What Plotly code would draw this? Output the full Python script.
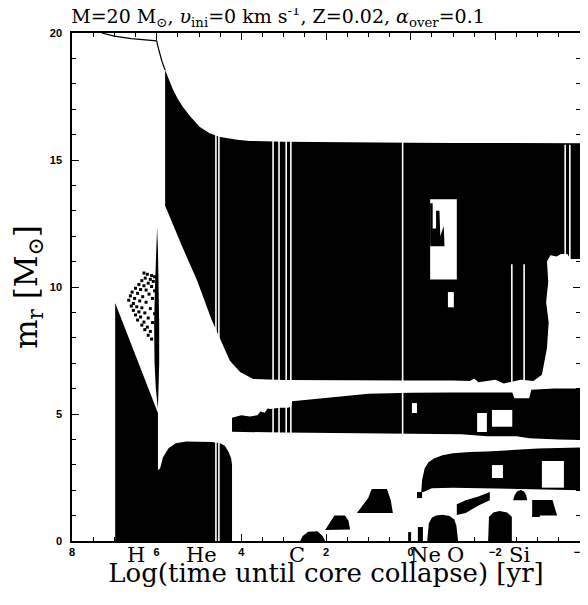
import plotly.graph_objects as go

# ---------------- data: log(time until core collapse) [yr]  vs  m_r [Msun] ----------------
# total mass (surface) before the envelope becomes convective
surface_logt = [7.30, 7.00, 6.60, 6.20, 6.00, 5.96, 5.92, 5.87, 5.80]
surface_m    = [20.0, 19.88, 19.78, 19.72, 19.69, 19.40, 19.10, 18.86, 18.54]

# convective envelope (its top is the surface of the star)
env_logt = [5.80, 5.72, 5.62, 5.50, 5.38, 5.20, 4.98, 4.75, 4.50, 4.10, 3.80, 3.00, 2.00, 1.00, 0.00,
            -1.00, -2.00, -3.00, -4.00,
            -4.00, -3.78, -3.70, -3.55, -3.45, -3.30, -3.22, -3.25, -3.20, -3.26, -3.22, -3.10, -2.90,
            -2.60, -2.20, -2.00, -1.60, -1.50, -1.40, -1.00, 0.00, 1.00, 2.00, 3.00, 3.72, 4.03, 4.27,
            4.45, 4.70, 5.05, 5.40, 5.80]
env_m    = [18.54, 18.20, 17.80, 17.40, 17.09, 16.70, 16.30, 16.05, 15.91, 15.80, 15.75, 15.72, 15.70,
            15.69, 15.68, 15.67, 15.67, 15.66, 15.66,
            11.10, 11.10, 11.30, 11.30, 11.20, 11.25, 11.00, 10.20, 9.40, 8.60, 7.60, 6.55, 6.30,
            6.35, 6.20, 6.35, 6.25, 6.40, 6.30, 6.32, 6.32, 6.33, 6.33, 6.34, 6.38, 6.65, 7.10,
            7.80, 8.70, 10.28, 11.60, 13.20]

# H-burning convective core + He-burning convective core
core_logt = [6.98, 6.98, 5.97, 5.97, 5.92, 5.85, 5.72, 5.55, 5.30, 5.00, 4.70, 4.50, 4.39, 4.30, 4.24, 4.22, 4.22]
core_m    = [0.00, 9.37, 5.04, 2.80, 2.85, 3.30, 3.65, 3.85, 3.92, 3.92, 3.90, 3.85, 3.75, 3.50, 3.25, 3.00, 0.00]

# intermediate convective zone (thin spike at end of H burning)
spike_logt = [5.97, 6.02, 6.05, 6.06, 6.04, 6.01, 5.99, 5.97, 5.95, 5.94, 5.94, 5.95]
spike_m    = [5.20, 6.00, 7.00, 8.50, 10.0, 11.5, 12.35, 11.5, 10.0, 8.50, 7.00, 6.00]

# semiconvective speckles
speck_logt = [6.30, 6.22, 6.12, 6.05, 6.27, 6.15, 6.35, 6.08, 6.20, 6.42, 6.30, 6.12, 6.50, 6.38, 6.25,
              6.05, 6.58, 6.45, 6.18, 6.62, 6.33, 6.52, 6.10, 6.66, 6.40, 6.25, 6.55, 6.60, 6.47, 6.35,
              6.15, 6.55, 6.42, 6.28, 6.05, 6.50, 6.38, 6.20, 6.45, 6.30, 6.10, 6.35, 6.22, 6.28, 6.15,
              6.20, 6.12]
speck_m    = [10.55, 10.50, 10.45, 10.40, 10.35, 10.30, 10.25, 10.22, 10.15, 10.10, 10.05, 10.02, 9.95,
              9.90, 9.88, 9.85, 9.80, 9.75, 9.72, 9.65, 9.62, 9.55, 9.55, 9.48, 9.45, 9.40, 9.35, 9.25,
              9.22, 9.18, 9.15, 9.08, 9.02, 8.98, 8.95, 8.90, 8.82, 8.78, 8.70, 8.62, 8.60, 8.50, 8.42,
              8.32, 8.25, 8.10, 7.95]

# shell convective zone between ~4 and ~6 Msun
band2_logt = [4.22, 4.22, 4.00, 3.80, 3.62, 3.55, 3.45, 3.38, 3.30, 3.10, 2.90, 2.82, 2.80, 2.50, 2.20,
              1.90, 1.60, 1.30, 1.00, 0.50, 0.00, -1.00, -2.00, -2.40, -2.45, -2.80, -2.85, -3.40, -4.00,
              -4.00, -3.50, -2.80, -2.50, -1.80, -1.20, 0.00, 1.50, 3.00]
band2_m    = [4.30, 4.85, 4.95, 4.90, 4.95, 5.10, 5.05, 5.22, 5.20, 5.25, 5.25, 5.30, 5.50, 5.55, 5.60,
              5.67, 5.72, 5.75, 5.80, 5.82, 5.84, 5.85, 5.85, 5.85, 5.62, 5.62, 5.95, 6.00, 6.00,
              3.98, 4.00, 4.05, 4.12, 4.12, 4.20, 4.22, 4.22, 4.27]

# shell convective zone between ~2 and ~3.7 Msun (late stages)
band3_logt = [-0.25, -0.27, -0.33, -0.42, -0.55, -0.75, -1.00, -1.40, -1.80, -2.20, -2.60, -3.00, -3.50,
              -4.00, -4.00, -3.40, -2.80, -2.20, -1.60, -1.00, -0.50, -0.30]
band3_m    = [1.93, 2.40, 2.85, 3.10, 3.25, 3.38, 3.45, 3.50, 3.52, 3.55, 3.60, 3.64, 3.66,
              3.68, 2.00, 2.02, 2.05, 2.08, 2.10, 2.10, 2.08, 1.93]

# small burning cores / shells (C, Ne, O, Si ...)
c_core_logt = [2.61, 2.55, 2.42, 2.20, 2.08, 2.02]
c_core_m    = [0.00, 0.20, 0.36, 0.38, 0.20, 0.00]
c_sh1_logt  = [2.02, 1.85, 1.80, 1.55, 1.47, 1.43]
c_sh1_m     = [0.43, 0.90, 1.00, 1.00, 0.80, 0.45]
c_sh2_logt  = [1.27, 1.00, 0.92, 0.56, 0.47, 0.42]
c_sh2_m     = [1.10, 1.70, 2.05, 2.05, 1.60, 1.10]
dot1_logt   = [-0.15, -0.27, -0.27, -0.15]
dot1_m      = [1.69, 1.69, 1.93, 1.93]
pin1_logt   = [0.06, -0.01, -0.01, 0.06]
pin1_m      = [0.00, 0.00, 0.35, 0.35]
pin2_logt   = [-0.17, -0.29, -0.29, -0.17]
pin2_m      = [0.00, 0.00, 0.55, 0.55]
ne_core_logt = [-0.39, -0.43, -0.50, -0.60, -0.75, -0.92, -1.03, -1.08, -1.12]
ne_core_m    = [0.00, 0.70, 0.92, 1.00, 1.03, 0.98, 0.85, 0.60, 0.00]
wedge_logt  = [-1.09, -1.30, -1.60, -1.87, -1.87, -1.60, -1.30, -1.09]
wedge_m     = [1.45, 1.60, 1.75, 1.93, 1.60, 1.40, 1.10, 1.02]
o_core_logt = [-1.83, -1.85, -1.95, -2.10, -2.28, -2.39, -2.39]
o_core_m    = [0.00, 0.95, 1.12, 1.18, 1.12, 0.95, 0.00]
cap_logt    = [-2.42, -2.46, -2.52, -2.60, -2.68, -2.73, -2.75]
cap_m       = [1.60, 1.82, 1.96, 2.01, 1.95, 1.80, 1.60]
block_logt  = [-2.87, -2.87, -3.35, -3.46, -3.05, -3.05]
block_m     = [0.94, 1.61, 1.61, 1.00, 1.00, 0.94]

# radiative holes inside convective regions (logt edges, m edges)
hole_logt_a = [-0.46, -0.03, -1.57, -1.92, -0.88, -1.92, -3.10]
hole_logt_b = [-1.09, -0.15, -1.80, -2.40, -1.02, -2.18, -3.62]
hole_m_lo   = [10.30, 5.04, 4.29, 4.50, 9.20, 2.48, 2.10]
hole_m_hi   = [13.45, 5.43, 5.04, 5.16, 9.80, 2.99, 3.15]

# convective tongue remaining inside the first hole
comb_logt = [-0.46, -0.52, -0.52, -0.60, -0.60, -0.68, -0.70, -0.78, -0.80, -0.46]
comb_m    = [13.30, 13.30, 12.30, 12.30, 13.00, 13.00, 12.00, 12.40, 11.60, 11.60]

# short radiative episodes (white vertical gaps)
gap_logt = [4.60, 4.53, 3.25, 3.11, 2.94, 2.83, 0.19, -2.39, -2.68, -3.65, -3.76]
gap_m_lo = [0.00, 0.00, 4.00, 4.00, 4.00, 4.00, 4.00, 6.00, 6.00, 11.0, 11.0]
gap_m_hi = [16.2, 16.1, 15.9, 15.9, 15.9, 15.9, 15.8, 10.9, 10.9, 15.6, 15.6]

# burning-phase labels
elem_names = ["H", "He", "C", "Ne", "O", "Si"]
elem_logt  = [6.48, 4.95, 2.68, -0.36, -1.07, -2.56]

# ---------------- figure ----------------
fig = go.Figure()

def blob(xs, ys, color="black"):
    fig.add_trace(go.Scatter(x=list(xs) + [xs[0]], y=list(ys) + [ys[0]], mode="lines",
                             fill="toself", fillcolor=color, line=dict(width=0, color=color),
                             hoverinfo="skip"))

for xs, ys in [(env_logt, env_m), (core_logt, core_m), (band2_logt, band2_m), (band3_logt, band3_m),
               (c_core_logt, c_core_m), (c_sh1_logt, c_sh1_m), (c_sh2_logt, c_sh2_m),
               (dot1_logt, dot1_m), (pin1_logt, pin1_m), (pin2_logt, pin2_m),
               (ne_core_logt, ne_core_m), (wedge_logt, wedge_m), (o_core_logt, o_core_m),
               (cap_logt, cap_m), (block_logt, block_m)]:
    blob(xs, ys)

for a, b, lo, hi in zip(hole_logt_a, hole_logt_b, hole_m_lo, hole_m_hi):
    blob([a, b, b, a], [lo, lo, hi, hi], color="white")

blob(comb_logt, comb_m)

gx, gy = [], []
for x, lo, hi in zip(gap_logt, gap_m_lo, gap_m_hi):
    gx += [x, x, None]
    gy += [lo, hi, None]
fig.add_trace(go.Scatter(x=gx, y=gy, mode="lines", line=dict(color="white", width=1.6), hoverinfo="skip"))

blob(spike_logt, spike_m)
fig.add_trace(go.Scatter(x=speck_logt, y=speck_m, mode="markers",
                         marker=dict(symbol="square", size=3, color="black"), hoverinfo="skip"))
fig.add_trace(go.Scatter(x=surface_logt, y=surface_m, mode="lines",
                         line=dict(color="black", width=1.2), hoverinfo="skip"))

for name, x in zip(elem_names, elem_logt):
    fig.add_annotation(x=x, y=0, xref="x", yref="paper", yanchor="top", yshift=0,
                       text=name, showarrow=False,
                       font=dict(family="DejaVu Serif", size=21, color="black"))

axis_common = dict(showline=True, linecolor="black", linewidth=1.5, mirror="ticks",
                   ticks="inside", tickcolor="black", tickwidth=1.2, ticklen=7,
                   showgrid=False, zeroline=False, automargin=False, ticklabeloverflow="allow",
                   tickfont=dict(family="Liberation Sans", size=11, color="black", weight="bold"))

# the page body adds an 8 px offset, so the figure is 580 x 597
fig.update_layout(
    width=580, height=597,
    margin=dict(l=64, r=8, t=25, b=64, autoexpand=False),
    paper_bgcolor="white", plot_bgcolor="white",
    showlegend=False,
    title=dict(text="M=20 M<sub>⊙</sub>, <i>υ</i><sub>ini</sub>=0 km s<sup>-1</sup>, Z=0.02, "
                    "<i>α</i><sub>over</sub>=0.1",
               x=270 / 580, xanchor="center", y=1.0, yanchor="top", pad=dict(t=2),
               automargin=False,
               font=dict(family="DejaVu Serif", size=19, color="black")),
    xaxis=dict(range=[8, -4], dtick=2, tick0=0,
               minor=dict(dtick=0.5, ticks="inside", ticklen=4, tickcolor="black", showgrid=False),
               title=dict(text="Log(time until core collapse) [yr]", standoff=4,
                          font=dict(family="DejaVu Serif", size=26, color="black")),
               **axis_common),
    yaxis=dict(range=[0, 20], dtick=5, tick0=0, ticklabelstandoff=6,
               minor=dict(dtick=1, ticks="inside", ticklen=4, tickcolor="black", showgrid=False),
               title=dict(text="m<sub>r</sub>&nbsp;[M<sub>⊙</sub>]", standoff=6,
                          font=dict(family="DejaVu Serif", size=31, color="black")),
               **axis_common),
)

fig.write_html("out.html")
